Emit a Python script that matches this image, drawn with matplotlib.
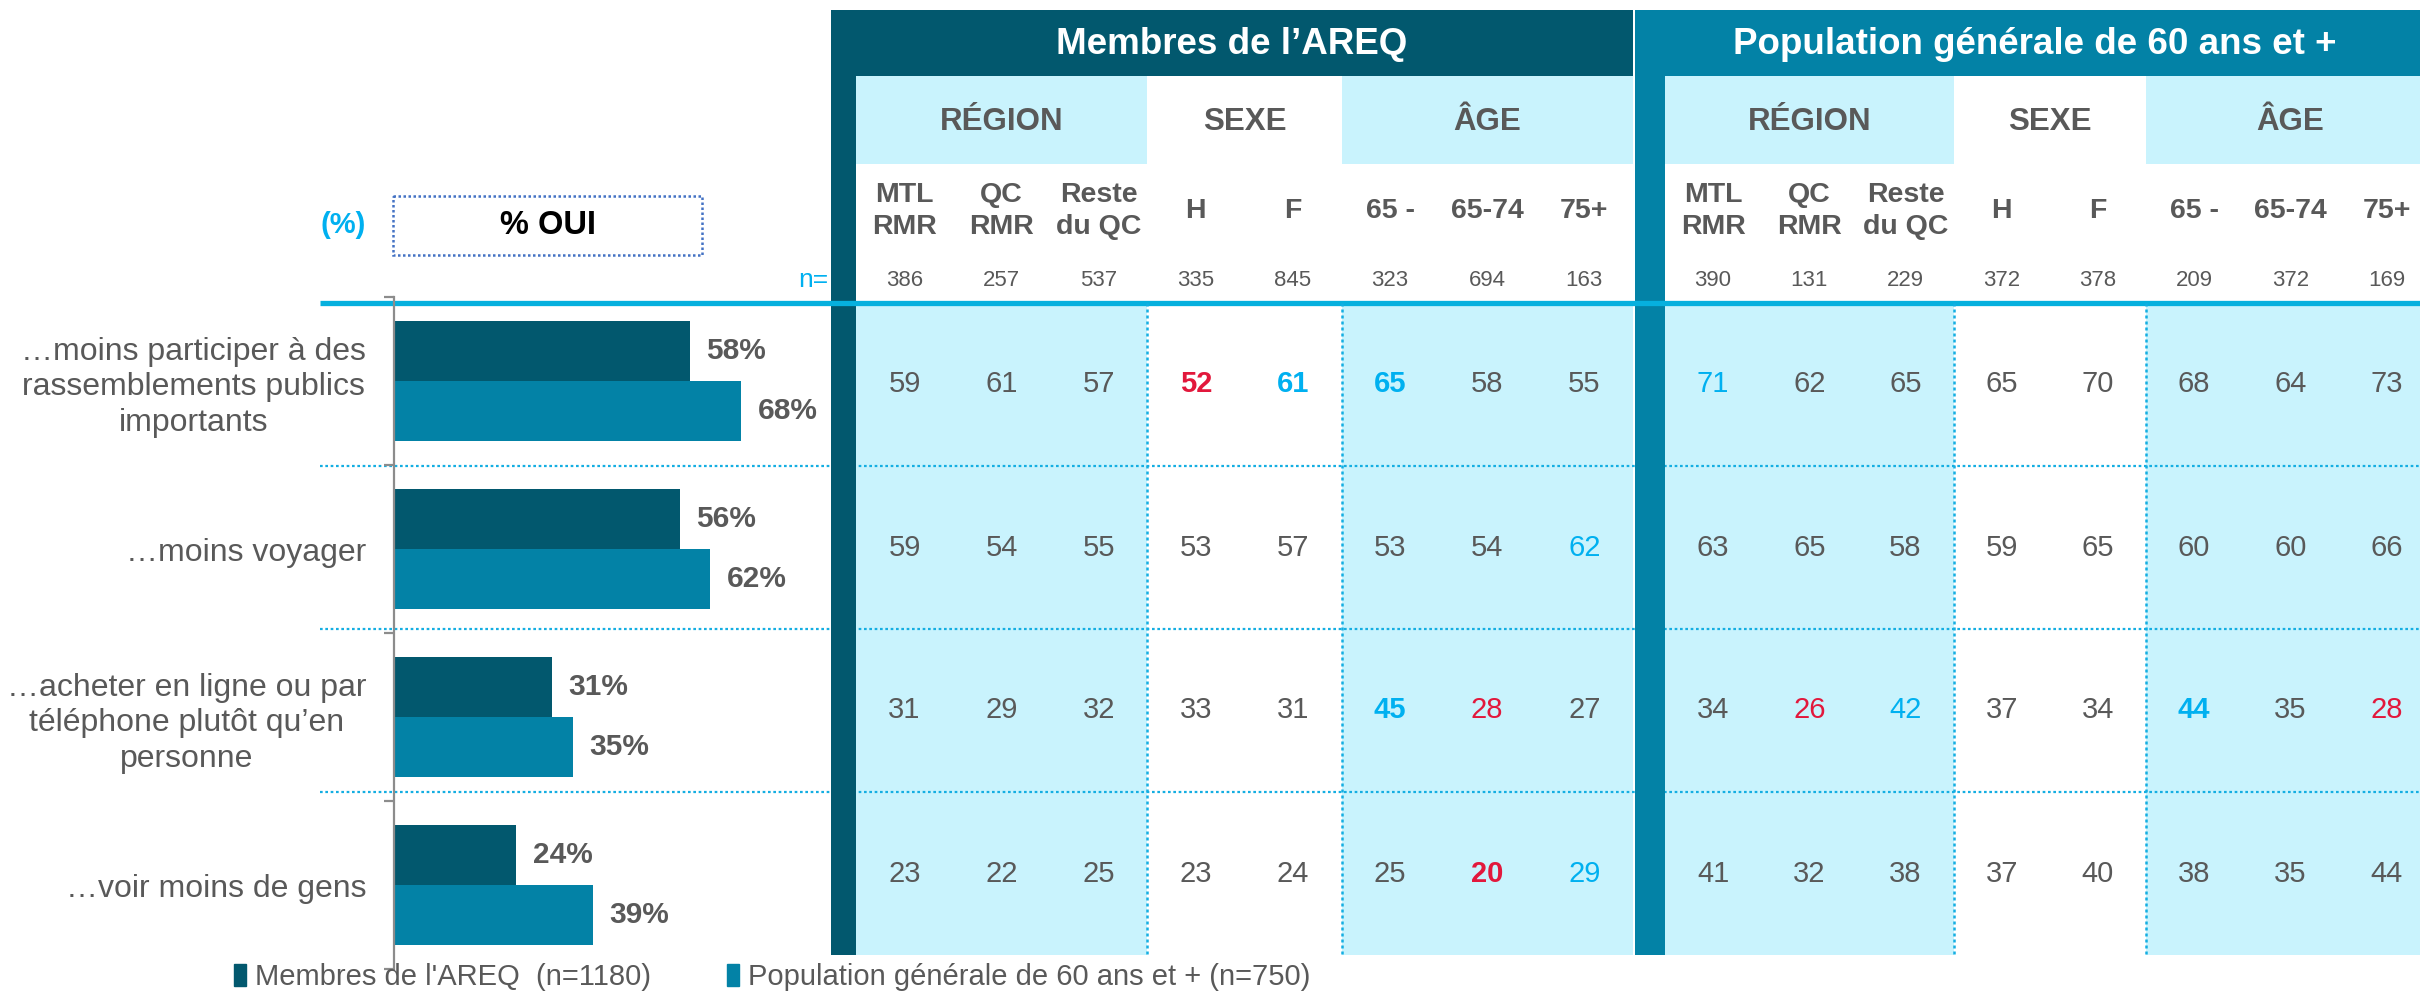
import matplotlib
matplotlib.use("Agg")
import matplotlib.pyplot as plt
from matplotlib.patches import Rectangle, Patch
import numpy as np

plt.rcParams['font.family'] = ['Liberation Sans', 'DejaVu Sans']

# ---------------- data ----------------
categories = ["…moins participer à des\nrassemblements publics\nimportants",
              "…moins voyager",
              "…acheter en ligne ou par\ntéléphone plutôt qu’en\npersonne",
              "…voir moins de gens"]
areq_pct = [58, 56, 31, 24]
pop_pct = [68, 62, 35, 39]
legend_labels = ["Membres de l'AREQ  (n=1180)", "Population générale de 60 ans et + (n=750)"]

group_labels = ["RÉGION", "SEXE", "ÂGE"]
group_spans = [(0, 3), (3, 5), (5, 8)]
col_labels = ["MTL\nRMR", "QC\nRMR", "Reste\ndu QC", "H", "F", "65 -", "65-74", "75+"]

areq_title = "Membres de l’AREQ"
areq_n = [386, 257, 537, 335, 845, 323, 694, 163]
areq_table = [[59, 61, 57, 52, 61, 65, 58, 55],
              [59, 54, 55, 53, 57, 53, 54, 62],
              [31, 29, 32, 33, 31, 45, 28, 27],
              [23, 22, 25, 23, 24, 25, 20, 29]]
# '' normal, r red, R red bold, b blue, B blue bold
areq_marks = [['', '', '', 'R', 'B', 'B', '', ''],
              ['', '', '', '', '', '', '', 'b'],
              ['', '', '', '', '', 'B', 'r', ''],
              ['', '', '', '', '', '', 'R', 'b']]

pop_title = "Population générale de 60 ans et +"
pop_n = [390, 131, 229, 372, 378, 209, 372, 169]
pop_table = [[71, 62, 65, 65, 70, 68, 64, 73],
             [63, 65, 58, 59, 65, 60, 60, 66],
             [34, 26, 42, 37, 34, 44, 35, 28],
             [41, 32, 38, 37, 40, 38, 35, 44]]
pop_marks = [['b', '', '', '', '', '', '', ''],
             ['', '', '', '', '', '', '', ''],
             ['', 'r', 'b', '', '', 'B', '', 'r'],
             ['', '', '', '', '', '', '', '']]

# ---------------- style ----------------
DARK = '#02586E'
TEAL = '#0382A6'
CYAN_BG = '#C9F3FD'
LINE_BLUE = '#06B0DE'
DOT_BLUE = '#14AEE2'
GRAY = '#595959'
RED = '#E2183C'
HBLUE = '#00B0F0'
W, H = 2420, 992

fig = plt.figure(figsize=(W / 100, H / 100), dpi=100)
ax = fig.add_axes([0, 0, 1, 1])
ax.set_xlim(0, W)
ax.set_ylim(H, 0)
ax.axis('off')

HDR_TOP, HDR_BOT, SUB_BOT = 10, 76, 164
DATA_TOP, DATA_BOT = 303, 955
ROW_H = (DATA_BOT - DATA_TOP) / 4

# horizontal dotted separators (under strips)
for k in range(1, 4):
    yy = DATA_TOP + k * ROW_H
    ax.plot([320, W], [yy, yy], color=DOT_BLUE, lw=1.6, ls=(0, (1.2, 1.2)), zorder=1)

panels = [
    dict(x0=831, strip=25, colw=97.1, color=DARK, title=areq_title, n=areq_n,
         vals=areq_table, marks=areq_marks),
    dict(x0=1635, strip=30, colw=96.2, color=TEAL, title=pop_title, n=pop_n,
         vals=pop_table, marks=pop_marks),
]

for p in panels:
    x0, strip, cw = p['x0'], p['strip'], p['colw']
    cx0 = x0 + strip
    right = cx0 + 8 * cw
    # header band and left strip
    ax.add_patch(Rectangle((x0, HDR_TOP), right - x0, HDR_BOT - HDR_TOP, color=p['color'], zorder=2, lw=0))
    ax.add_patch(Rectangle((x0, HDR_TOP), strip, DATA_BOT - HDR_TOP, color=p['color'], zorder=2, lw=0))
    ax.text((x0 + right) / 2, (HDR_TOP + HDR_BOT) / 2 + 1, p['title'], color='white',
            fontsize=26.5, fontweight='bold', ha='center', va='center', zorder=5)
    # cyan groups
    for gi, (a, b) in enumerate(group_spans):
        if gi != 1:
            ax.add_patch(Rectangle((cx0 + a * cw, HDR_BOT), (b - a) * cw, SUB_BOT - HDR_BOT,
                                   color=CYAN_BG, zorder=0, lw=0))
            ax.add_patch(Rectangle((cx0 + a * cw, DATA_TOP), (b - a) * cw, DATA_BOT - DATA_TOP,
                                   color=CYAN_BG, zorder=0, lw=0))
        ax.text(cx0 + (a + b) / 2 * cw, (HDR_BOT + SUB_BOT) / 2 + 2, group_labels[gi],
                color=GRAY, fontsize=22.5, fontweight='bold', ha='center', va='center', zorder=5)
    # column labels and n
    for j, lab in enumerate(col_labels):
        xc = cx0 + (j + 0.5) * cw
        ax.text(xc, 211, lab, color=GRAY, fontsize=20.5, fontweight='bold', ha='center',
                va='center', linespacing=1.25, multialignment='center', zorder=5)
        ax.text(xc, 280, str(p['n'][j]), color=GRAY, fontsize=16, ha='center', va='center', zorder=5)

    # table axes for cell values
    tax = fig.add_axes([cx0 / W, 1 - DATA_BOT / H, 8 * cw / W, (DATA_BOT - DATA_TOP) / H])
    tax.set_xlim(0, 8)
    tax.set_ylim(4, 0)
    tax.axis('off')
    tax.patch.set_alpha(0)
    for xd in (3, 5):
        tax.plot([xd, xd], [0, 4], color=DOT_BLUE, lw=1.8, ls=(0, (1.2, 1.2)), clip_on=False)
    vals = np.array(p['vals'])
    for i in range(vals.shape[0]):
        for j in range(vals.shape[1]):
            m = p['marks'][i][j]
            col = GRAY
            fw = 'normal'
            if m in ('r', 'R'):
                col = RED
            if m in ('b', 'B'):
                col = HBLUE
            if m in ('R', 'B'):
                fw = 'bold'
            tax.text(j + 0.5, i + 0.5, str(vals[i, j]), color=col, fontsize=21, fontweight=fw,
                     ha='center', va='center')

# thick blue line
ax.plot([320, W], [DATA_TOP, DATA_TOP], color=LINE_BLUE, lw=3.8, zorder=4, solid_capstyle='butt')

# "(%)", "% OUI", "n="
ax.text(343, 225, "(%)", color=HBLUE, fontsize=21, fontweight='bold', ha='center', va='center')
ax.add_patch(Rectangle((393, 196), 309, 59, fill=False, edgecolor='#4472C4', lw=1.8,
                       ls=(0, (1, 1)), zorder=3))
ax.text(548, 226, "% OUI", color='black', fontsize=23.5, fontweight='bold', ha='center', va='center')
ax.text(828, 280, "n=", color=HBLUE, fontsize=19, ha='right', va='center')

# ---------------- bar chart ----------------
bx0, bw = 394, 510
btop, bbot = 297, 969
bax = fig.add_axes([bx0 / W, 1 - bbot / H, bw / W, (bbot - btop) / H])
bax.patch.set_alpha(0)
y = np.arange(len(categories))
bh = 60 / 168
b1 = bax.barh(y - bh / 2, areq_pct, height=bh, color=DARK, label=legend_labels[0])
b2 = bax.barh(y + bh / 2, pop_pct, height=bh, color=TEAL, label=legend_labels[1])
bax.set_xlim(0, 100)
bax.set_ylim(len(categories) - 0.5, -0.5)
for s in ('top', 'right', 'bottom'):
    bax.spines[s].set_visible(False)
bax.spines['left'].set_color('#8C8C8C')
bax.spines['left'].set_linewidth(1.6)
bax.set_xticks([])
bax.set_yticks(y)
bax.set_yticklabels(categories)
bax.tick_params(axis='y', which='major', length=0, pad=20, labelsize=23, labelcolor=GRAY)
for lab in bax.get_yticklabels():
    lab.set_multialignment('center')
    lab.set_linespacing(1.25)
bax.set_yticks(np.arange(len(categories) + 1) - 0.5, minor=True)
bax.tick_params(axis='y', which='minor', length=7, width=1.6, color='#8C8C8C')
for bars, vals in ((b1, areq_pct), (b2, pop_pct)):
    for rect, v in zip(bars, vals):
        bax.annotate(f"{v}%", (v, rect.get_y() + rect.get_height() / 2), xytext=(12, 0),
                     textcoords='offset points', va='center', ha='left', fontsize=21.5,
                     fontweight='bold', color=GRAY, annotation_clip=False)

fig.legend(handles=[Patch(color=DARK), Patch(color=TEAL)], labels=legend_labels,
           loc='center left', bbox_to_anchor=(234 / W, 1 - 977 / H), ncol=2, frameon=False,
           fontsize=21, labelcolor=GRAY, handlelength=0.42, handleheight=0.75,
           handletextpad=0.3, columnspacing=2.6, borderpad=0, borderaxespad=0)

fig.savefig("out.png", dpi=100)
